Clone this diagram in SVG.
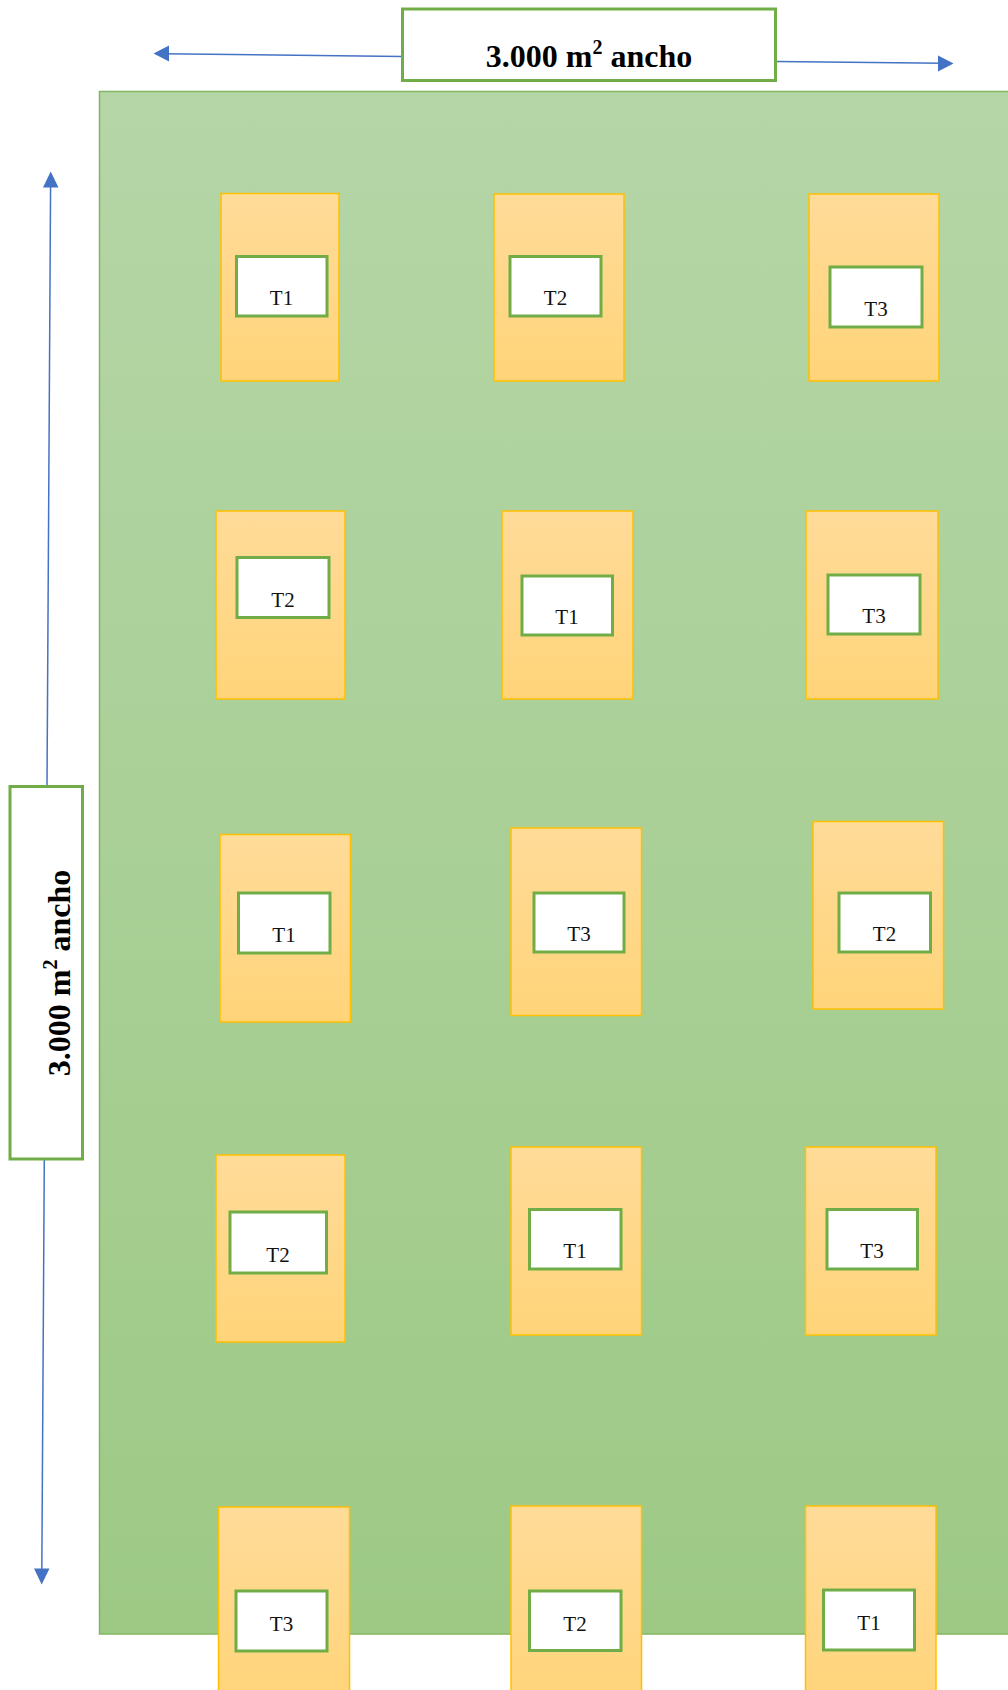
<svg xmlns="http://www.w3.org/2000/svg" width="1008" height="1690" viewBox="0 0 1008 1690">
<defs>
<linearGradient id="gField" x1="0" y1="0" x2="0" y2="1">
<stop offset="0" stop-color="#B5D6A7"/>
<stop offset="1" stop-color="#9DC985"/>
</linearGradient>
<linearGradient id="gPlot" x1="0" y1="0" x2="0" y2="1">
<stop offset="0" stop-color="#FFDB99"/>
<stop offset="1" stop-color="#FFD479"/>
</linearGradient>
<marker id="arr" viewBox="0 0 10 10" refX="9" refY="5" markerWidth="5" markerHeight="5" orient="auto" markerUnits="userSpaceOnUse">
<path d="M0,0 L10,5 L0,10 Z" fill="#4472C4"/>
</marker>
<style>
.field{fill:url(#gField);stroke:#82B55F;stroke-width:1.5}
.plot{fill:url(#gPlot);stroke:#FFC000;stroke-width:1.5}
.tag{fill:#FFFFFF;stroke:#70AD47;stroke-width:3}
.lbl{fill:#FFFFFF;stroke:#70AD47;stroke-width:3}
.t{font-family:"Liberation Serif","Times New Roman",serif;font-size:21px;fill:#111;text-anchor:middle}
.big{font-family:"Liberation Serif","Times New Roman",serif;font-size:32px;font-weight:bold;fill:#000;text-anchor:middle}
.con{stroke:#4472C4;stroke-width:1.5;fill:none}
.ah{fill:#4472C4}
</style>
</defs>
<rect width="1008" height="1690" fill="#FFFFFF"/>

<g id="field">
<rect class="field" x="99.5" y="91.5" width="920" height="1542.5"/>
</g>

<g id="connectors">
<line class="con" x1="402" y1="56.5" x2="162" y2="53.8"/>
<path class="ah" d="M153.5,53.5 L169,45.5 L169,61.5 Z"/>
<line class="con" x1="776" y1="61.5" x2="944" y2="63.2"/>
<path class="ah" d="M953.5,63.5 L938,55.5 L938,71.5 Z"/>
<line class="con" x1="47" y1="786" x2="50.6" y2="182"/>
<path class="ah" d="M50.7,171.5 L43,187.5 L58.5,187.5 Z"/>
<line class="con" x1="44.3" y1="1160" x2="41.8" y2="1574"/>
<path class="ah" d="M41.7,1584.5 L34,1568.5 L49.5,1568.5 Z"/>
</g>

<g id="label-top">
<rect class="lbl" x="402.5" y="9" width="373" height="71.5"/>
<text class="big" x="589" y="67">3.000 m<tspan font-size="20" dy="-13">2</tspan><tspan dy="13"> ancho</tspan></text>
</g>

<g id="label-left">
<rect class="lbl" x="10" y="786.5" width="72.5" height="372.5"/>
<text class="big" transform="translate(70,973) rotate(-90)">3.000 m<tspan font-size="20" dy="-13">2</tspan><tspan dy="13"> ancho</tspan></text>
</g>

<g id="plot-r1c1"><rect class="plot" x="221" y="193.5" width="118" height="187.5"/><rect class="tag" x="236.5" y="256.5" width="90.5" height="59.5"/><text class="t" x="281.5" y="305">T1</text></g>
<g id="plot-r1c2"><rect class="plot" x="494" y="194" width="130" height="187"/><rect class="tag" x="510" y="256.5" width="91" height="59.5"/><text class="t" x="555.5" y="305">T2</text></g>
<g id="plot-r1c3"><rect class="plot" x="809" y="194" width="130" height="187"/><rect class="tag" x="830" y="267" width="92" height="60"/><text class="t" x="876" y="316">T3</text></g>

<g id="plot-r2c1"><rect class="plot" x="216" y="511" width="129" height="188"/><rect class="tag" x="237" y="557.5" width="92" height="60"/><text class="t" x="283" y="606.5">T2</text></g>
<g id="plot-r2c2"><rect class="plot" x="502" y="511" width="131" height="188"/><rect class="tag" x="522" y="576" width="90.5" height="59"/><text class="t" x="567" y="624">T1</text></g>
<g id="plot-r2c3"><rect class="plot" x="806" y="511" width="132" height="188"/><rect class="tag" x="828" y="575" width="92" height="59"/><text class="t" x="874" y="623">T3</text></g>

<g id="plot-r3c1"><rect class="plot" x="220" y="834.5" width="130.5" height="187.5"/><rect class="tag" x="238.5" y="893" width="91.5" height="60"/><text class="t" x="284" y="942">T1</text></g>
<g id="plot-r3c2"><rect class="plot" x="511" y="828" width="130.5" height="187.5"/><rect class="tag" x="534" y="893" width="90" height="59"/><text class="t" x="579" y="941">T3</text></g>
<g id="plot-r3c3"><rect class="plot" x="813" y="821.5" width="130.5" height="187.5"/><rect class="tag" x="839" y="893" width="91.5" height="59"/><text class="t" x="884.5" y="941">T2</text></g>

<g id="plot-r4c1"><rect class="plot" x="216" y="1155" width="129" height="187"/><rect class="tag" x="230" y="1212" width="96.5" height="61"/><text class="t" x="278" y="1262">T2</text></g>
<g id="plot-r4c2"><rect class="plot" x="511" y="1147" width="130.5" height="188"/><rect class="tag" x="529.5" y="1209.5" width="91.5" height="59.5"/><text class="t" x="575" y="1258">T1</text></g>
<g id="plot-r4c3"><rect class="plot" x="805.5" y="1147" width="130.5" height="188"/><rect class="tag" x="827" y="1209.5" width="90.5" height="59.5"/><text class="t" x="872" y="1258">T3</text></g>

<g id="plot-r5c1"><rect class="plot" x="218.5" y="1507" width="131" height="200"/><rect class="tag" x="236" y="1591" width="91" height="60"/><text class="t" x="281.5" y="1631">T3</text></g>
<g id="plot-r5c2"><rect class="plot" x="511" y="1506" width="130.5" height="200"/><rect class="tag" x="529.5" y="1591" width="91.5" height="59.5"/><text class="t" x="575" y="1631">T2</text></g>
<g id="plot-r5c3"><rect class="plot" x="805.5" y="1506" width="130.5" height="200"/><rect class="tag" x="823.5" y="1590" width="91" height="60"/><text class="t" x="869" y="1630">T1</text></g>
</svg>
